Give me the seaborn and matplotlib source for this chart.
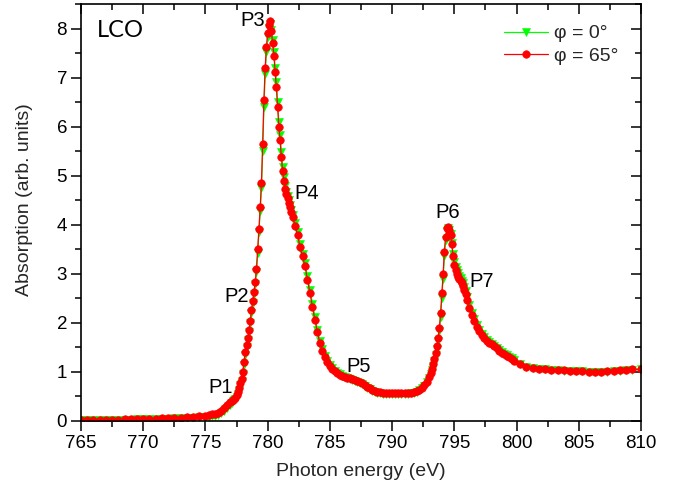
import matplotlib
matplotlib.use("Agg")
import matplotlib.pyplot as plt
from matplotlib.ticker import MultipleLocator
import seaborn as sns
import pandas as pd

# photon energy grid (eV)
energy = [
    765.0, 765.5, 766.0, 766.5, 767.0, 767.5, 768.0, 768.5, 769.0, 769.5,
    770.0, 770.5, 771.0, 771.5, 772.0, 772.5, 773.0, 773.5, 774.0, 774.5,
    775.0, 775.25, 775.5, 775.75, 776.0, 776.25, 776.5, 776.75, 777.0, 777.1,
    777.2, 777.3, 777.4, 777.5, 777.6, 777.7, 777.8, 777.9, 778.0, 778.1,
    778.2, 778.3, 778.4, 778.5, 778.6, 778.7, 778.8, 778.9, 779.0, 779.1,
    779.2, 779.3, 779.4, 779.5, 779.6, 779.7, 779.8, 779.9, 780.0, 780.1,
    780.2, 780.3, 780.4, 780.5, 780.6, 780.7, 780.8, 780.9, 781.0, 781.1,
    781.2, 781.3, 781.4, 781.5, 781.6, 781.7, 781.8, 781.9, 782.0, 782.2,
    782.4, 782.6, 782.8, 783.0, 783.2, 783.4, 783.6, 783.8, 784.0, 784.2,
    784.4, 784.6, 784.8, 785.0, 785.2, 785.4, 785.6, 785.8, 786.0, 786.2,
    786.4, 786.6, 786.8, 787.0, 787.2, 787.4, 787.6, 787.8, 788.0, 788.2,
    788.4, 788.6, 788.8, 789.0, 789.25, 789.5, 789.75, 790.0, 790.25, 790.5,
    790.75, 791.0, 791.25, 791.5, 791.75, 792.0, 792.2, 792.4, 792.6, 792.8,
    793.0, 793.1, 793.2, 793.3, 793.4, 793.5, 793.6, 793.7, 793.8, 793.9,
    794.0, 794.1, 794.2, 794.3, 794.4, 794.5, 794.6, 794.7, 794.8, 794.9,
    795.0, 795.1, 795.2, 795.3, 795.4, 795.5, 795.6, 795.7, 795.8, 795.9,
    796.0, 796.2, 796.4, 796.6, 796.8, 797.0, 797.2, 797.4, 797.6, 797.8,
    798.0, 798.2, 798.4, 798.6, 798.8, 799.0, 799.2, 799.4, 799.6, 799.8,
    800.3, 800.8, 801.3, 801.8, 802.3, 802.8, 803.3, 803.8, 804.3, 804.8,
    805.3, 805.8, 806.3, 806.8, 807.3, 807.8, 808.3, 808.8, 809.3, 810.0,
]

# absorption, phi = 65 deg
abs_65 = [
    0.010, 0.012, 0.014, 0.016, 0.019, 0.021, 0.024, 0.027, 0.030, 0.033,
    0.036, 0.040, 0.044, 0.048, 0.053, 0.058, 0.064, 0.071, 0.080, 0.091,
    0.104, 0.115, 0.128, 0.145, 0.165, 0.20, 0.25, 0.32, 0.38, 0.41,
    0.42, 0.44, 0.47, 0.52, 0.59, 0.67, 0.76, 0.86, 1.00, 1.20,
    1.40, 1.55, 1.68, 1.85, 2.03, 2.25, 2.45, 2.63, 2.82, 3.10,
    3.50, 3.92, 4.35, 4.85, 5.65, 6.55, 7.20, 7.62, 7.90, 8.08,
    8.15, 7.95, 7.70, 7.45, 7.12, 6.80, 6.40, 6.00, 5.72, 5.38,
    5.10, 4.90, 4.73, 4.62, 4.54, 4.45, 4.36, 4.25, 4.15, 3.98,
    3.78, 3.55, 3.35, 3.15, 2.88, 2.60, 2.32, 2.05, 1.80, 1.58,
    1.42, 1.29, 1.19, 1.12, 1.06, 1.01, 0.97, 0.94, 0.92, 0.90,
    0.88, 0.87, 0.85, 0.83, 0.81, 0.79, 0.76, 0.72, 0.69, 0.66,
    0.63, 0.61, 0.59, 0.58, 0.57, 0.56, 0.56, 0.56, 0.56, 0.56,
    0.56, 0.56, 0.57, 0.57, 0.58, 0.60, 0.63, 0.67, 0.72, 0.79,
    0.90, 0.97, 1.06, 1.15, 1.25, 1.38, 1.52, 1.68, 1.90, 2.20,
    2.60, 3.00, 3.45, 3.75, 3.93, 3.96, 3.90, 3.78, 3.60, 3.35,
    3.18, 3.07, 3.00, 2.94, 2.90, 2.86, 2.80, 2.74, 2.66, 2.58,
    2.47, 2.30, 2.15, 2.03, 1.92, 1.83, 1.74, 1.68, 1.63, 1.59,
    1.56, 1.52, 1.48, 1.43, 1.39, 1.36, 1.33, 1.30, 1.26, 1.22,
    1.16, 1.10, 1.08, 1.06, 1.05, 1.04, 1.03, 1.03, 1.02, 1.02,
    1.01, 1.00, 1.00, 1.00, 1.01, 1.02, 1.03, 1.04, 1.05, 1.05,
]

# absorption, phi = 0 deg
abs_0 = [
    0.008, 0.010, 0.011, 0.013, 0.015, 0.017, 0.019, 0.021, 0.024, 0.026,
    0.029, 0.032, 0.035, 0.038, 0.042, 0.046, 0.050, 0.055, 0.061, 0.068,
    0.076, 0.084, 0.094, 0.106, 0.120, 0.150, 0.19, 0.26, 0.33, 0.37,
    0.40, 0.42, 0.45, 0.49, 0.55, 0.63, 0.72, 0.82, 0.95, 1.14,
    1.35, 1.51, 1.65, 1.81, 1.99, 2.20, 2.41, 2.59, 2.78, 3.04,
    3.42, 3.84, 4.27, 4.75, 5.50, 6.40, 7.08, 7.52, 7.82, 8.02,
    8.10, 7.98, 7.76, 7.52, 7.20, 6.90, 6.50, 6.10, 5.82, 5.48,
    5.18, 4.97, 4.79, 4.67, 4.58, 4.50, 4.41, 4.30, 4.20, 4.03,
    3.84, 3.61, 3.41, 3.21, 2.95, 2.67, 2.39, 2.12, 1.86, 1.63,
    1.46, 1.32, 1.21, 1.13, 1.07, 1.02, 0.98, 0.95, 0.92, 0.90,
    0.88, 0.86, 0.84, 0.82, 0.80, 0.77, 0.74, 0.70, 0.67, 0.64,
    0.61, 0.59, 0.57, 0.56, 0.55, 0.54, 0.54, 0.54, 0.54, 0.54,
    0.54, 0.55, 0.55, 0.56, 0.57, 0.59, 0.62, 0.66, 0.71, 0.78,
    0.88, 0.95, 1.03, 1.12, 1.22, 1.34, 1.47, 1.63, 1.84, 2.12,
    2.50, 2.90, 3.35, 3.68, 3.88, 3.94, 3.90, 3.80, 3.63, 3.40,
    3.24, 3.13, 3.07, 3.01, 2.96, 2.92, 2.86, 2.80, 2.72, 2.64,
    2.53, 2.36, 2.20, 2.08, 1.96, 1.86, 1.77, 1.70, 1.65, 1.61,
    1.57, 1.53, 1.49, 1.44, 1.40, 1.37, 1.34, 1.31, 1.27, 1.23,
    1.16, 1.10, 1.08, 1.06, 1.05, 1.04, 1.03, 1.02, 1.02, 1.01,
    1.01, 1.00, 0.99, 0.99, 1.00, 1.01, 1.02, 1.03, 1.04, 1.05,
]

peak_labels = ["P1", "P2", "P3", "P4", "P5", "P6", "P7"]
peak_x = [776.2, 777.5, 778.8, 783.1, 787.3, 794.5, 797.2]
peak_y = [0.67, 2.54, 8.17, 4.64, 1.10, 4.25, 2.85]

df = pd.DataFrame({"energy": energy, "phi0": abs_0, "phi65": abs_65})

sns.set_theme(style="ticks")
plt.rcParams["font.family"] = ["Liberation Sans", "DejaVu Sans"]

fig = plt.figure(figsize=(6.79, 4.87), dpi=100)
ax = fig.add_axes([0.1193, 0.1361, 0.8247, 0.8556])

sns.lineplot(data=df, x="energy", y="phi0", ax=ax, color="#00ff00", lw=0.9,
             marker="v", markersize=5.5, markeredgewidth=0.4, markeredgecolor="#00ff00",
             markerfacecolor="#00ff00", label="\u03c6 = 0\u00b0", sort=False)
sns.lineplot(data=df, x="energy", y="phi65", ax=ax, color="#ff0000", lw=0.9,
             marker="o", markersize=5.4, markeredgewidth=0.5, markeredgecolor="#ff0000",
             markerfacecolor="#ff0000", label="\u03c6 = 65\u00b0", sort=False)

ax.set_xlim(765, 810)
ax.set_ylim(0, 8.5)
ax.xaxis.set_major_locator(MultipleLocator(5))
ax.xaxis.set_minor_locator(MultipleLocator(2.5))
ax.yaxis.set_major_locator(MultipleLocator(1))
ax.yaxis.set_minor_locator(MultipleLocator(0.5))

ax.tick_params(which="both", bottom=True, left=True, top=True, right=True,
               labeltop=False, labelright=False, width=1.1, colors="black")
ax.tick_params(which="major", direction="out", length=7, labelsize=13.5, pad=3)
ax.tick_params(which="minor", direction="out", length=4)
# mirrored ticks point inwards on the top and right axes
for t in ax.xaxis.get_major_ticks() + ax.xaxis.get_minor_ticks():
    t.tick2line.set_marker(3)
for t in ax.yaxis.get_major_ticks() + ax.yaxis.get_minor_ticks():
    t.tick2line.set_marker(0)

for s in ax.spines.values():
    s.set_linewidth(1.2)
    s.set_color("black")

ax.set_xlabel("Photon energy (eV)", fontsize=14, labelpad=8)
ax.set_ylabel("Absorption (arb. units)", fontsize=14)
ax.yaxis.set_label_coords(-0.085, 0.53)

for lab, px, py in zip(peak_labels, peak_x, peak_y):
    ax.text(px, py, lab, fontsize=14.5, ha="center", va="center", color="black")

ax.text(768.2, 7.97, "LCO", fontsize=17, ha="center", va="center",
        family=["Lato", "DejaVu Sans"], color="black")

leg = ax.legend(loc="upper right", bbox_to_anchor=(0.96, 0.95), frameon=False,
                fontsize=14, handlelength=2.3, handletextpad=0.3,
                borderaxespad=0, borderpad=0, labelspacing=0.25)

fig.savefig("out.png", dpi=100)
